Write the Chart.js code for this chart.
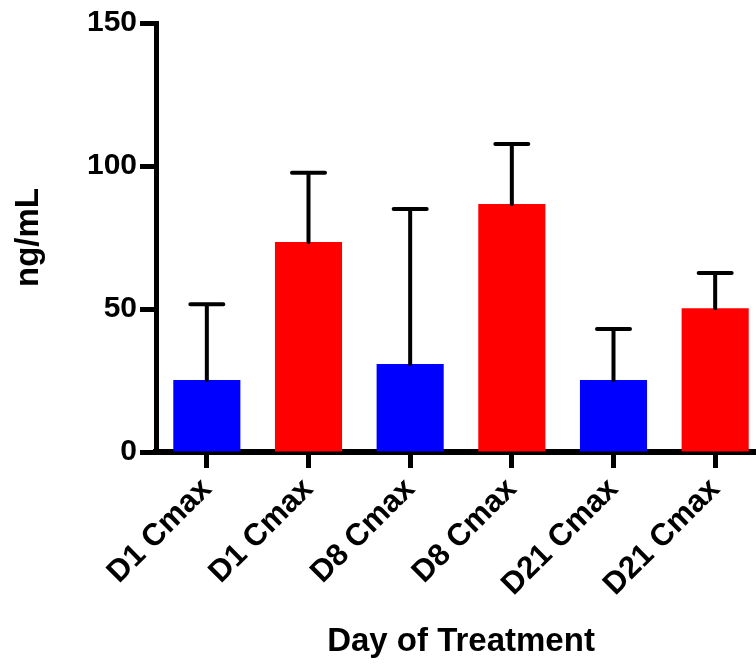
<!DOCTYPE html>
<html>
<head>
<meta charset="utf-8">
<script src="https://cdn.jsdelivr.net/npm/chart.js@4.4.0/dist/chart.umd.min.js"></script>
<style>
  html, body { margin: 0; padding: 0; background: #fff; overflow: hidden; }
  #chart { display: block; }
</style>
</head>
<body>
<canvas id="chart" width="766" height="665"></canvas>
<script>
// --- data ---
const labels = ['D1 Cmax', 'D1 Cmax', 'D8 Cmax', 'D8 Cmax', 'D21 Cmax', 'D21 Cmax'];
const means = [25.2, 73.4, 30.8, 86.7, 25.2, 50.3];
const errors = [26.5, 24.2, 54.2, 21.0, 17.8, 12.3];
const barColors = ['#0000ff', '#ff0000', '#0000ff', '#ff0000', '#0000ff', '#ff0000'];
const yTicks = [0, 50, 100, 150];

const FONT = "'Liberation Sans', Arial, Helvetica, sans-serif";

// error bars (upper only, like the prism plot)
const errorBars = {
    id: 'errorBars',
    afterDatasetsDraw(chart) {
        const ctx = chart.ctx;
        const meta = chart.getDatasetMeta(0);
        const yScale = chart.scales.y;
        ctx.save();
        ctx.strokeStyle = '#000';
        ctx.lineWidth = 4;
        ctx.lineCap = 'round';
        meta.data.forEach((bar, i) => {
            const top = yScale.getPixelForValue(means[i] + errors[i]);
            ctx.beginPath();
            ctx.moveTo(bar.x, bar.y);
            ctx.lineTo(bar.x, top);
            ctx.moveTo(bar.x - 16.5, top);
            ctx.lineTo(bar.x + 16.5, top);
            ctx.stroke();
        });
        ctx.restore();
    }
};

new Chart(document.getElementById('chart').getContext('2d'), {
    type: 'bar',
    data: {
        labels: labels,
        datasets: [{
            data: means,
            backgroundColor: barColors,
            borderWidth: 0,
            barPercentage: 0.66,
            categoryPercentage: 1
        }]
    },
    options: {
        responsive: false,
        animation: false,
        devicePixelRatio: 1,
        layout: { autoPadding: false, padding: { top: 23, left: 0, right: 0, bottom: 0 } },
        plugins: { legend: { display: false }, tooltip: { enabled: false } },
        scales: {
            x: {
                z: 1,
                afterFit: s => { s.height = 213; },
                grid: { offset: false, drawOnChartArea: false, color: '#000', tickLength: 16, tickWidth: 5 },
                border: { display: true, color: '#000', width: 6 },
                ticks: {
                    color: '#000', minRotation: 45, maxRotation: 45, padding: 3, autoSkip: false,
                    font: { family: FONT, size: 31, weight: 'bold' }
                },
                title: {
                    display: true, text: 'Day of Treatment', color: '#000',
                    font: { family: FONT, size: 33, weight: 'bold' },
                    padding: { top: 0, bottom: 3 }
                }
            },
            y: {
                z: 1,
                min: 0, max: 150,
                afterFit: s => { s.width = 156; },
                afterBuildTicks: s => { s.ticks = yTicks.map(v => ({ value: v })); },
                grid: { drawOnChartArea: false, color: '#000', tickLength: 16, tickWidth: 5 },
                border: { display: true, color: '#000', width: 5 },
                ticks: {
                    color: '#000', padding: 3,
                    font: { family: FONT, size: 30, weight: 'bold' }
                },
                title: {
                    display: true, text: 'ng/mL', color: '#000',
                    font: { family: FONT, size: 33, weight: 'bold' },
                    padding: { top: 9, bottom: 0 }
                }
            }
        }
    },
    plugins: [errorBars]
});
</script>
</body>
</html>
